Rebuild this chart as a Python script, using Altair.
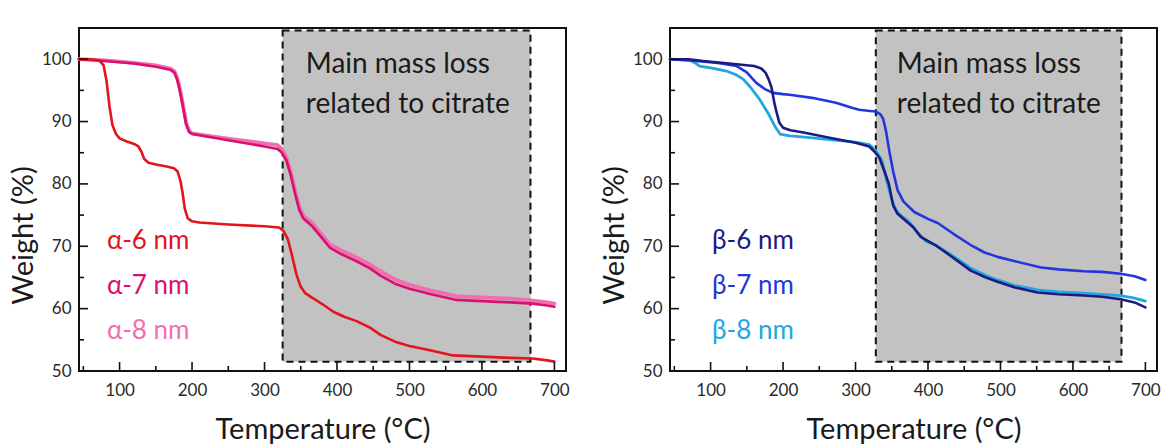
import altair as alt
import pandas as pd

# ---------------- data ----------------
T_a6 = [44, 60, 72, 78, 82, 86, 90, 95, 100, 110, 120, 126, 130, 134, 140, 150, 165, 175, 180, 184, 187, 190, 194, 200, 210, 250, 300, 320, 326, 332, 338, 344, 350, 356, 365, 380, 395, 410, 427, 445, 460, 480, 500, 530, 560, 600, 640, 670, 690, 700]
W_a6 = [100, 100, 99.8, 99, 96.5, 92.5, 89.5, 88, 87.3, 86.8, 86.4, 86.0, 85.2, 84.0, 83.4, 83.1, 82.8, 82.5, 82.0, 80.5, 78.5, 76.0, 74.5, 74.0, 73.8, 73.5, 73.2, 73.0, 72.5, 71.2, 68.5, 65.5, 63.5, 62.5, 61.8, 60.7, 59.5, 58.7, 58.0, 57.0, 55.8, 54.7, 54.0, 53.3, 52.5, 52.3, 52.1, 52.0, 51.7, 51.5]

T_a7 = [44, 80, 120, 150, 170, 176, 180, 184, 188, 192, 196, 200, 230, 260, 300, 318, 324, 330, 336, 342, 348, 354, 365, 378, 390, 405, 427, 445, 460, 480, 500, 530, 565, 600, 640, 670, 690, 700]
W_a7 = [100, 99.7, 99.3, 98.8, 98.3, 97.8, 96.5, 94.5, 92.0, 89.5, 88.3, 88.0, 87.4, 86.8, 86.0, 85.6, 85.0, 83.8, 81.5, 78.5, 75.8, 74.4, 73.3, 71.5, 69.8, 68.8, 67.6, 66.5, 65.3, 64.0, 63.2, 62.3, 61.4, 61.2, 61.0, 60.8, 60.5, 60.3]

T_a8 = [44, 80, 120, 150, 170, 176, 180, 184, 188, 192, 196, 200, 230, 260, 300, 318, 324, 330, 336, 342, 348, 354, 365, 378, 390, 405, 427, 445, 460, 480, 500, 530, 565, 600, 640, 670, 690, 700]
W_a8 = [100, 99.8, 99.4, 99.0, 98.5, 98.0, 96.8, 94.8, 92.3, 89.7, 88.5, 88.1, 87.6, 87.1, 86.5, 86.2, 85.6, 84.3, 82.0, 79.0, 76.3, 74.8, 73.8, 72.0, 70.3, 69.4, 68.2, 67.1, 66.0, 64.7, 63.8, 62.9, 62.0, 61.8, 61.6, 61.3, 61.0, 60.8]

T_b6 = [44, 70, 90, 136, 160, 170, 176, 180, 184, 188, 191, 195, 200, 210, 230, 264, 300, 319, 326, 333, 340, 346, 352, 358, 368, 380, 390, 410, 427, 445, 459, 480, 496, 520, 551, 580, 615, 640, 666, 685, 700]
W_b6 = [100, 100, 99.7, 99.2, 98.9, 98.5, 97.8, 96.8, 95.5, 93.0, 91.5, 89.8, 89.0, 88.6, 88.2, 87.4, 86.6, 86.0, 85.2, 84.2, 82.0, 80.0, 76.5, 75.2, 74.2, 73.0, 71.5, 70.2, 68.8, 67.3, 66.1, 65.0, 64.3, 63.4, 62.6, 62.3, 62.1, 61.9, 61.5, 61.0, 60.2]

T_b7 = [44, 80, 110, 136, 150, 163, 175, 186, 200, 209, 240, 273, 295, 305, 320, 328, 334, 338, 342, 347, 352, 358, 366, 381, 400, 414, 435, 459, 478, 496, 520, 556, 580, 615, 640, 666, 685, 700]
W_b7 = [100, 99.7, 99.4, 98.9, 97.9, 96.2, 95.2, 94.6, 94.4, 94.3, 93.8, 93.0, 92.2, 91.9, 91.7, 91.6, 91.2, 90.5, 88.5, 85.0, 82.0, 79.0, 77.2, 75.5, 74.4, 73.7, 72.0, 70.2, 69.0, 68.3, 67.6, 66.6, 66.3, 66.0, 65.9, 65.6, 65.2, 64.6]

T_b8 = [44, 70, 80, 85, 100, 122, 135, 145, 155, 168, 180, 190, 196, 209, 230, 264, 300, 319, 326, 331, 337, 343, 350, 356, 364, 374, 385, 397, 410, 427, 445, 459, 480, 496, 520, 551, 580, 615, 640, 666, 685, 700]
W_b8 = [100, 99.9, 99.3, 98.9, 98.6, 98.1, 97.5, 96.8, 95.5, 93.5, 91.2, 89.0, 88.0, 87.7, 87.5, 87.1, 86.7, 86.3, 85.6, 84.8, 83.6, 80.5, 77.5, 75.8, 74.8, 73.9, 72.3, 70.8, 70.2, 69.0, 67.6, 66.5, 65.3, 64.6, 63.7, 63.0, 62.7, 62.5, 62.3, 62.1, 61.7, 61.2]

alpha_names = ["α-6 nm", "α-7 nm", "α-8 nm"]
beta_names = ["β-6 nm", "β-7 nm", "β-8 nm"]
alpha_colors = ["#e3141c", "#d8116f", "#ef6fb0"]
beta_colors = ["#1b1b82", "#2336dc", "#22a6e2"]

x_major = [100, 200, 300, 400, 500, 600, 700]
x_minor = [50, 150, 250, 350, 450, 550, 650]
y_major = [50, 60, 70, 80, 90, 100]
y_minor = [55, 65, 75, 85, 95]

region_left = [(325, 667), (328, 667)]
region_bottom, region_top = 51.5, 104.6
region_text = ["Main mass loss", "related to citrate"]

# ---------------- chart ----------------
W, H = 487, 343
FONT = "Lato"
xscale = alt.Scale(domain=[44, 716], nice=False, zero=False)
yscale = alt.Scale(domain=[50, 105], nice=False, zero=False)


def panel(series, names, colors, widths, region, label_x):
    x_axis = alt.Axis(values=x_major, ticks=False, domain=False, grid=False,
                      labelFont=FONT, labelFontSize=17, labelColor="#2a2a2a",
                      labelPadding=11, title="Temperature (°C)", titleFont=FONT,
                      titleFontSize=29, titleFontWeight="normal", titleColor="#1a1a1a",
                      titlePadding=17)
    y_axis = alt.Axis(values=y_major, ticks=False, domain=False, grid=False,
                      labelFont=FONT, labelFontSize=17, labelColor="#2a2a2a",
                      labelPadding=8, title="Weight (%)", titleFont=FONT,
                      titleFontSize=29, titleFontWeight="normal", titleColor="#1a1a1a",
                      titlePadding=3, titleY=207)

    box_df = pd.DataFrame({"x0": [region[0]], "x1": [region[1]],
                           "y0": [region_bottom], "y1": [region_top]})
    box = alt.Chart(box_df).mark_rect(fill="#c2c2c2", stroke="#111111", strokeWidth=2,
                                      strokeDash=[7, 5]).encode(
        x=alt.X("x0:Q", scale=xscale, axis=x_axis),
        x2="x1:Q",
        y=alt.Y("y0:Q", scale=yscale, axis=y_axis),
        y2="y1:Q",
    )

    txt_df = pd.DataFrame({"t": region_text, "x": [357, 357], "y": [99.0, 92.7]})
    txt = alt.Chart(txt_df).mark_text(align="left", baseline="middle", font=FONT,
                                      fontSize=28, color="#1a1a1a").encode(
        x=alt.X("x:Q", scale=xscale), y=alt.Y("y:Q", scale=yscale), text="t:N")

    layers = [box, txt]
    # draw the lightest series first
    for (T, Wt), name, col, sw in reversed(list(zip(series, names, colors, widths))):
        df = pd.DataFrame({"T": T, "W": Wt})
        layers.append(alt.Chart(df).mark_line(color=col, strokeWidth=sw,
                                              strokeJoin="round", strokeCap="round").encode(
            x=alt.X("T:Q", scale=xscale), y=alt.Y("W:Q", scale=yscale)))

    for i, (n, c) in enumerate(zip(names, colors)):
        layers.append(alt.Chart(pd.DataFrame({"t": [n]})).mark_text(
            align="left", baseline="middle", font=FONT, fontSize=26, color=c).encode(
            x=alt.value(label_x),
            y=alt.value(213 + 45 * i),
            text="t:N"))

    for vals, ln in ((x_major, 9), (x_minor, 5)):
        layers.append(alt.Chart(pd.DataFrame({"T": vals})).mark_rule(
            color="#111111", strokeWidth=1.6).encode(
            x=alt.X("T:Q", scale=xscale), y=alt.value(H), y2=alt.value(H - ln)))
    for vals, ln in ((y_major, 9), (y_minor, 5)):
        layers.append(alt.Chart(pd.DataFrame({"W": vals})).mark_rule(
            color="#111111", strokeWidth=1.6).encode(
            y=alt.Y("W:Q", scale=yscale), x=alt.value(0), x2=alt.value(ln)))

    return alt.layer(*layers).properties(width=W, height=H)


left = panel([(T_a6, W_a6), (T_a7, W_a7), (T_a8, W_a8)], alpha_names, alpha_colors,
             [2.6, 2.6, 3.8], region_left[0], 28)
right = panel([(T_b6, W_b6), (T_b7, W_b7), (T_b8, W_b8)], beta_names, beta_colors,
              [2.6, 2.6, 2.8], region_left[1], 42)

chart = alt.hconcat(left, right, spacing=28).properties(
    padding={"left": 8, "top": 27, "right": 0, "bottom": 0},
    background="white",
).configure_view(stroke="#111111", strokeWidth=2)

chart.save("out.html", embed_options={"renderer": "svg", "actions": False})
